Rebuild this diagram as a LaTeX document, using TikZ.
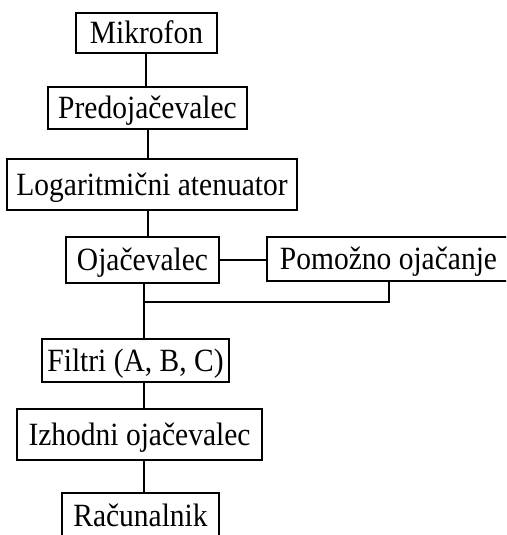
\documentclass[tikz,border=0pt]{standalone}
\usepackage{fontspec}
\setmainfont{Liberation Serif}
\newcommand{\tallface}[1]{\scalebox{1}[1.1]{#1}}
\begin{document}
\begin{tikzpicture}[x=1pt,y=-1pt,
  blockbox/.style={draw, line width=1.3pt, inner sep=0pt, text height=21pt, text depth=0pt,
    font=\fontsize{29.5}{34}\selectfont},
  link/.style={line width=1.3pt}]
\useasboundingbox (0,0) rectangle (506,535);
\fill[white] (0,0) rectangle (506,535);
\clip (0,0) rectangle (506,535);

% blocks of the signal chain
\node[blockbox, minimum width=141pt, minimum height=40pt] (mik) at (146.5,33) {\tallface{Mikrofon}};
\node[blockbox, minimum width=199pt, minimum height=42pt] (pre) at (147.5,108) {\tallface{Predojačevalec}};
\node[blockbox, minimum width=290pt, minimum height=51pt] (log) at (152,184.5) {\tallface{Logaritmični atenuator}};
\node[blockbox, minimum width=153pt, minimum height=46pt] (oja) at (142.5,260) {\tallface{Ojačevalec}};
\node[blockbox, minimum width=243pt, minimum height=44pt] (pom) at (388.5,259) {\tallface{Pomožno ojačanje}};
\node[blockbox, minimum width=187pt, minimum height=43pt] (fil) at (135.5,360.5) {\tallface{Filtri (A, B, C)}};
\node[blockbox, minimum width=245pt, minimum height=51pt] (izh) at (139.5,434.5) {\tallface{Izhodni ojačevalec}};
\node[blockbox, minimum width=157pt, minimum height=46pt] (rac) at (140.5,516) {\tallface{Računalnik}};

% vertical guides for the connectors
\coordinate (spA) at (146,0);
\coordinate (spB) at (148,0);
\coordinate (spC) at (144,0);
\coordinate (tap) at (389,302);
\coordinate (jn) at (144,302);

% connectors
\draw[link] (mik.south -| spA) -- (pre.north -| spA);
\draw[link] (pre.south -| spB) -- (log.north -| spB);
\draw[link] (log.south -| spB) -- (oja.north -| spB);
\draw[link] (oja.east) -- (oja.east -| pom.west);
\draw[link] (oja.south -| spC) -- (fil.north -| spC);
\draw[link] (pom.south -| tap) -- (tap) -- (jn);
\draw[link] (fil.south -| spC) -- (izh.north -| spC);
\draw[link] (izh.south -| spC) -- (rac.north -| spC);
\end{tikzpicture}
\end{document}
